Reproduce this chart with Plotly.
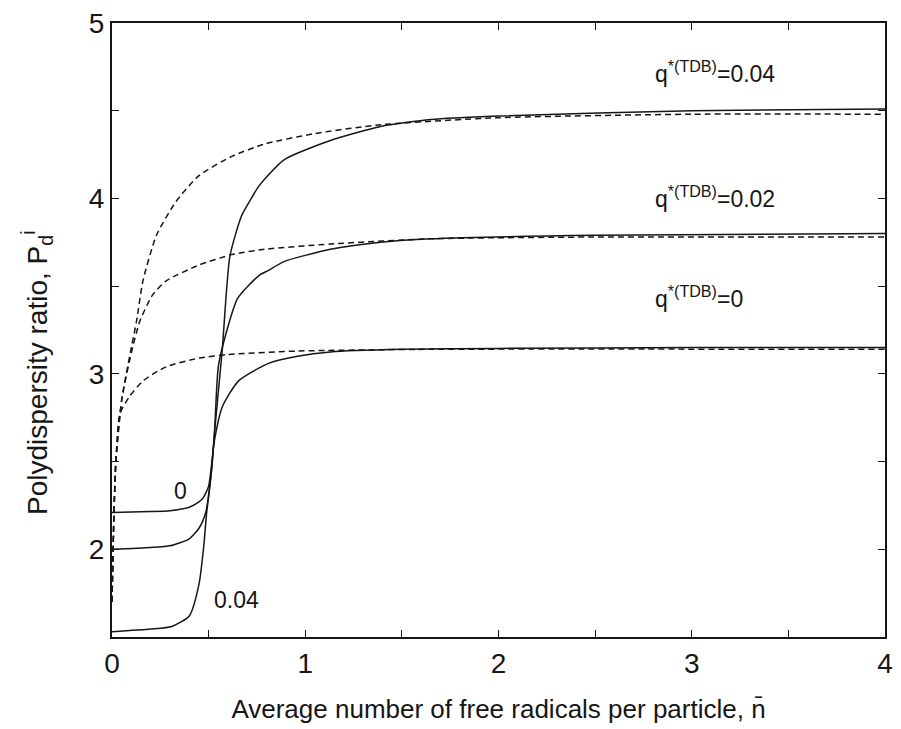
import plotly.graph_objects as go

# Average number of free radicals per particle (x) and polydispersity ratio (y)
# Solid curves
n_solid_q0 = [0.0, 0.2, 0.3, 0.4, 0.45, 0.47, 0.5, 0.53, 0.57, 0.655, 0.81, 0.96, 1.13, 1.5, 2.0, 3.0, 4.0]
pd_solid_q0 = [2.21, 2.215, 2.22, 2.24, 2.27, 2.29, 2.36, 2.62, 2.81, 2.96, 3.06, 3.10, 3.125, 3.14, 3.145, 3.15, 3.15]

n_solid_q002 = [0.0, 0.2, 0.3, 0.4, 0.45, 0.485, 0.51, 0.53, 0.55, 0.59, 0.65, 0.76, 0.81, 0.89, 1.13, 1.39, 1.65, 2.5, 4.0]
pd_solid_q002 = [2.0, 2.01, 2.02, 2.06, 2.12, 2.21, 2.40, 2.66, 3.04, 3.23, 3.43, 3.56, 3.59, 3.64, 3.71, 3.75, 3.77, 3.79, 3.80]

n_solid_q004 = [0.0, 0.2, 0.31, 0.40, 0.45, 0.475, 0.49, 0.50, 0.517, 0.53, 0.57, 0.61, 0.67, 0.71, 0.76, 0.89, 1.13, 1.39, 1.65, 2.0, 3.0, 4.0]
pd_solid_q004 = [1.53, 1.545, 1.56, 1.62, 1.80, 2.02, 2.21, 2.30, 2.47, 2.66, 3.13, 3.67, 3.90, 3.98, 4.07, 4.22, 4.33, 4.41, 4.45, 4.47, 4.50, 4.51]

# Dashed curves
n_dash_q0 = [0.0, 0.01, 0.02, 0.04, 0.09, 0.16, 0.28, 0.45, 0.6, 0.96, 1.65, 4.0]
pd_dash_q0 = [1.7, 2.2, 2.5, 2.77, 2.87, 2.96, 3.04, 3.09, 3.11, 3.13, 3.14, 3.14]

n_dash_q002 = [0.0, 0.01, 0.02, 0.05, 0.1, 0.144, 0.21, 0.28, 0.45, 0.62, 0.79, 1.13, 1.65, 2.5, 4.0]
pd_dash_q002 = [1.7, 2.2, 2.5, 2.85, 3.12, 3.30, 3.45, 3.53, 3.62, 3.68, 3.71, 3.74, 3.77, 3.78, 3.78]

n_dash_q004 = [0.0, 0.01, 0.02, 0.05, 0.1, 0.127, 0.16, 0.23, 0.33, 0.45, 0.62, 0.79, 1.05, 1.39, 2.0, 3.0, 4.0]
pd_dash_q004 = [1.7, 2.2, 2.5, 2.85, 3.15, 3.30, 3.53, 3.79, 3.98, 4.13, 4.24, 4.31, 4.37, 4.42, 4.46, 4.48, 4.48]

# Labelled ticks; unlabelled ticks fall halfway between them
x_ticks = [0, 1, 2, 3, 4]
x_tick_text = ["0", "1", "2", "3", "4"]
y_ticks = [2, 3, 4, 5]
y_tick_text = ["2", "3", "4", "5"]

FONT = "Liberation Sans, Arial, sans-serif"
INK = "#161616"

fig = go.Figure()

solid_sets = [(n_solid_q0, pd_solid_q0), (n_solid_q002, pd_solid_q002), (n_solid_q004, pd_solid_q004)]
dash_sets = [(n_dash_q0, pd_dash_q0), (n_dash_q002, pd_dash_q002), (n_dash_q004, pd_dash_q004)]

for xs, ys in solid_sets:
    fig.add_trace(go.Scatter(x=xs, y=ys, mode="lines",
                             line=dict(color=INK, width=1.5, shape="spline", smoothing=0.6),
                             showlegend=False))
for xs, ys in dash_sets:
    fig.add_trace(go.Scatter(x=xs, y=ys, mode="lines",
                             line=dict(color=INK, width=1.5, dash="6px,4px", shape="spline", smoothing=0.6),
                             showlegend=False))

# Curve labels
labels = [
    (2.80, 4.72, "q<sup>*(TDB)</sup>=0.04", "left"),
    (2.80, 4.01, "q<sup>*(TDB)</sup>=0.02", "left"),
    (2.80, 3.44, "q<sup>*(TDB)</sup>=0", "left"),
    (0.355, 2.33, "0", "center"),
    (0.52, 1.71, "0.04", "left"),
]
for x, y, t, anchor in labels:
    fig.add_annotation(x=x, y=y, text=t, showarrow=False, xanchor=anchor,
                       yanchor="middle", font=dict(family=FONT, size=23, color=INK))

# Vertical axis title, placed slightly below the plot centre
fig.add_annotation(xref="paper", yref="paper", x=-0.097, y=0.43,
                   text="Polydispersity ratio, P<sub>d</sub><sup>i</sup>",
                   textangle=-90, showarrow=False, xanchor="center", yanchor="middle",
                   font=dict(family=FONT, size=28, color=INK))

axis_common = dict(
    showline=True, linecolor=INK, linewidth=2, mirror="allticks",
    ticks="inside", ticklen=7, tickwidth=1.2, tickcolor=INK,
    showgrid=False, zeroline=False,
    minor=dict(dtick=0.5, ticks="inside", ticklen=7, tickwidth=1.2, tickcolor=INK, showgrid=False),
    tickfont=dict(family=FONT, size=28, color=INK),
    title_font=dict(family=FONT, size=26, color=INK),
)

fig.update_layout(
    width=901, height=729,
    margin=dict(l=112, r=8, t=18, b=92),
    paper_bgcolor="white", plot_bgcolor="white",
    xaxis=dict(range=[0, 4], tickmode="array", tickvals=x_ticks, ticktext=x_tick_text,
               title=dict(text="Average number of free radicals per particle, n\u0304", standoff=22),
               **axis_common),
    yaxis=dict(range=[1.5, 5], tickmode="array", tickvals=y_ticks, ticktext=y_tick_text,
               **axis_common),
)

fig.write_html("out.html")
